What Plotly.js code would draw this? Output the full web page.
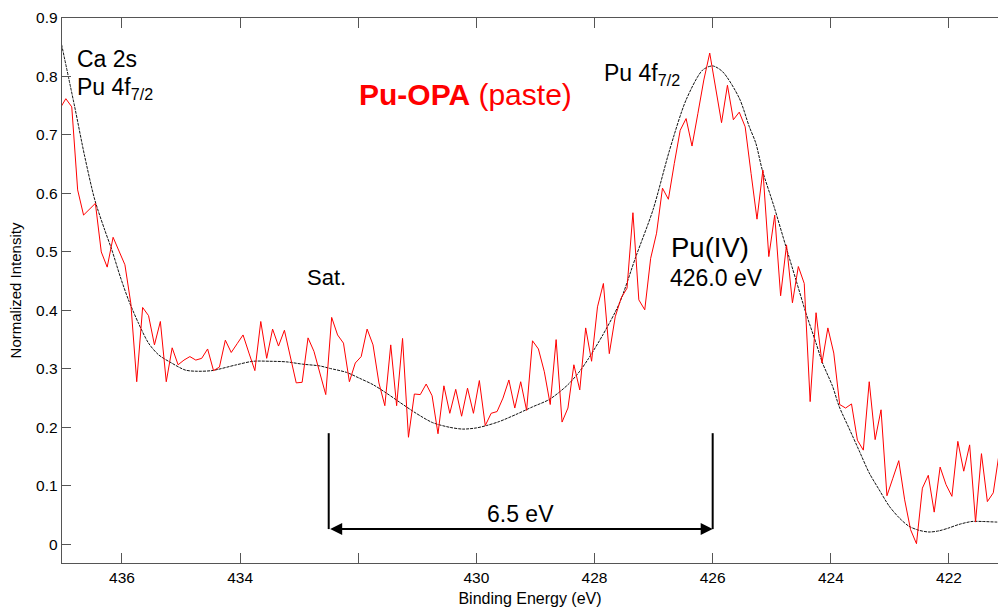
<!DOCTYPE html>
<html>
<head>
<meta charset="utf-8">
<script src="https://cdn.plot.ly/plotly-3.0.1.min.js"></script>
<style>
html,body{margin:0;padding:0;background:#fff;}
#chart{width:998px;height:607px;}
</style>
</head>
<body>
<div id="chart"></div>
<script>
// Binding energy grid of the measured spectrum (eV)
const energy = [437.05,436.95,436.85,436.75,436.65,436.55,436.45,436.35,436.25,436.15,436.05,
435.95,435.85,435.75,435.65,435.55,435.45,435.35,435.25,435.15,435.05,
434.95,434.85,434.75,434.65,434.55,434.45,434.35,434.25,434.15,434.05,
433.95,433.85,433.75,433.65,433.55,433.45,433.35,433.25,433.15,433.05,
432.95,432.85,432.75,432.65,432.55,432.45,432.35,432.25,432.15,432.05,
431.95,431.85,431.75,431.65,431.55,431.45,431.35,431.25,431.15,431.05,
430.95,430.85,430.75,430.65,430.55,430.45,430.35,430.25,430.15,430.05,
429.95,429.85,429.75,429.65,429.55,429.45,429.35,429.25,429.15,429.05,
428.95,428.85,428.75,428.65,428.55,428.45,428.35,428.25,428.15,428.05,
427.95,427.85,427.75,427.65,427.55,427.45,427.35,427.25,427.15,427.05,
426.95,426.85,426.75,426.65,426.55,426.45,426.35,426.25,426.15,426.05,
425.95,425.85,425.75,425.65,425.55,425.45,425.35,425.25,425.15,425.05,
424.95,424.85,424.75,424.65,424.55,424.45,424.35,424.25,424.15,424.05,
423.95,423.85,423.75,423.65,423.55,423.45,423.35,423.25,423.15,423.05,
422.95,422.85,422.75,422.65,422.55,422.45,422.35,422.25,422.15,422.05,
421.95,421.85,421.75,421.65,421.55,421.45,421.35,421.25,421.15];

// Measured normalized intensity (red)
const intensity = [0.745,0.762,0.748,0.606,0.563,0.573,0.583,0.500,0.474,0.525,0.503,
0.478,0.412,0.278,0.405,0.391,0.341,0.381,0.278,0.336,0.307,
0.315,0.321,0.315,0.318,0.334,0.297,0.303,0.349,0.328,0.343,
0.358,0.327,0.297,0.381,0.318,0.368,0.339,0.366,0.321,0.276,
0.277,0.353,0.330,0.295,0.256,0.388,0.358,0.344,0.278,0.310,
0.321,0.368,0.341,0.276,0.237,0.341,0.237,0.352,0.183,0.257,
0.256,0.274,0.254,0.189,0.271,0.224,0.265,0.219,0.267,0.224,
0.280,0.203,0.224,0.227,0.250,0.281,0.233,0.278,0.229,0.348,
0.334,0.295,0.239,0.350,0.209,0.233,0.307,0.264,0.370,0.313,
0.406,0.446,0.326,0.389,0.421,0.438,0.567,0.418,0.401,0.489,
0.532,0.609,0.590,0.651,0.708,0.728,0.681,0.737,0.794,0.840,
0.778,0.721,0.785,0.726,0.739,0.714,0.634,0.556,0.640,0.492,
0.563,0.425,0.512,0.413,0.475,0.446,0.244,0.396,0.310,0.370,
0.327,0.239,0.233,0.240,0.178,0.161,0.278,0.179,0.230,0.083,
0.113,0.143,0.076,0.025,0.001,0.096,0.118,0.055,0.132,0.102,
0.082,0.176,0.125,0.170,0.038,0.155,0.073,0.088,0.156];

// Fitted envelope (black)
const fitEnergy = [437.05,436.80,436.63,436.46,436.29,436.17,436.03,435.89,435.72,435.55,435.38,
435.16,434.93,434.76,434.48,434.06,433.78,433.50,433.22,432.94,432.65,432.49,432.20,
431.98,431.75,431.53,431.30,431.02,430.74,430.45,430.23,430.00,429.83,429.61,429.33,
429.05,428.76,428.45,428.25,428.10,427.86,427.58,427.30,427.01,426.73,426.45,426.17,
426.00,425.83,425.55,425.38,425.27,425.16,424.96,424.76,424.59,424.42,424.25,424.14,
423.97,423.86,423.69,423.52,423.35,423.18,423.01,422.84,422.68,422.51,422.34,422.17,
422.00,421.83,421.61,421.44,421.19,421.10];
const fitIntensity = [0.868,0.748,0.663,0.589,0.537,0.503,0.458,0.418,0.378,0.344,0.324,
0.310,0.298,0.296,0.297,0.307,0.313,0.313,0.312,0.308,0.305,0.301,0.294,
0.284,0.273,0.259,0.243,0.224,0.208,0.200,0.197,0.199,0.203,0.210,0.222,
0.235,0.248,0.273,0.296,0.318,0.358,0.412,0.492,0.572,0.674,0.760,0.811,
0.818,0.808,0.763,0.714,0.686,0.640,0.577,0.509,0.452,0.395,0.344,0.310,
0.270,0.236,0.198,0.160,0.122,0.093,0.065,0.045,0.031,0.024,0.021,0.023,
0.028,0.034,0.039,0.039,0.038,0.038];

// Axis ticks
const xTickVals = [436,434,432,430,428,426,424,422];
const xTickText = ["436","434","","430","428","426","424","422"];
const yTickVals = [0,0.1,0.2,0.3,0.4,0.5,0.6,0.7,0.8,0.9];
const yTickText = ["0","0.1","0.2","0.3","0.4","0.5","0.6","0.7","0.8","0.9"];

// Satellite separation marker (eV)
const satEnergy = 432.5;
const mainEnergy = 426.0;
const separationLabel = "6.5 eV";

const FONT = "Liberation Sans, Arial, sans-serif";

const traces = [
  {x: fitEnergy, y: fitIntensity, type: 'scatter', mode: 'lines',
   line: {color: '#111', width: 1, shape: 'spline', smoothing: 0.8, dash: '3px,1px'},
   hoverinfo: 'skip', showlegend: false},
  {x: energy, y: intensity, type: 'scatter', mode: 'lines',
   line: {color: '#ff0000', width: 1}, showlegend: false}
];

const textFont = {family: FONT, size: 23, color: '#000'};

const layout = {
  width: 998, height: 607,
  margin: {l: 62, r: 0, t: 18, b: 44, pad: 0},
  paper_bgcolor: '#fff', plot_bgcolor: '#fff',
  font: {family: FONT, color: '#000'},
  showlegend: false,
  xaxis: {
    range: [437.015, 421.17], autorange: false,
    tickvals: xTickVals, ticktext: xTickText,
    ticks: 'inside', ticklen: 10, tickwidth: 1, tickcolor: '#555',
    showline: true, linecolor: '#555', linewidth: 1.3, mirror: 'ticks',
    showgrid: false, zeroline: false,
    tickfont: {family: FONT, size: 15.5, color: '#000'},
    title: {text: 'Binding Energy (eV)', font: {family: FONT, size: 16, color: '#000'}, standoff: 8}
  },
  yaxis: {
    range: [-0.032, 0.9], autorange: false,
    tickvals: yTickVals, ticktext: yTickText,
    ticks: 'inside', ticklen: 9, tickwidth: 1, tickcolor: '#555',
    showline: true, linecolor: '#555', linewidth: 1.3, mirror: false,
    showgrid: false, zeroline: false,
    tickfont: {family: FONT, size: 15.5, color: '#000'},
    title: {text: 'Normalized Intensity', font: {family: FONT, size: 15, color: '#000'}, standoff: 10}
  },
  shapes: [
    {type: 'line', xref: 'x', yref: 'y', x0: satEnergy, x1: satEnergy, y0: 0.026, y1: 0.190,
     line: {color: '#000', width: 2}},
    {type: 'line', xref: 'x', yref: 'y', x0: mainEnergy, x1: mainEnergy, y0: 0.026, y1: 0.190,
     line: {color: '#000', width: 2}}
  ],
  annotations: [
    {x: mainEnergy, y: 0.0263, ax: satEnergy, ay: 0.0263, xref: 'x', yref: 'y', axref: 'x', ayref: 'y',
     text: '', showarrow: true, arrowside: 'end+start', arrowhead: 2, arrowsize: 1.2, arrowwidth: 2,
     arrowcolor: '#000', standoff: 0, startstandoff: 0},
    {x: 429.25, y: 0.052, xref: 'x', yref: 'y', text: separationLabel, showarrow: false,
     xanchor: 'center', yanchor: 'middle', font: textFont},
    {x: 436.79, y: 0.830, xref: 'x', yref: 'y', text: 'Ca 2s', showarrow: false,
     xanchor: 'left', yanchor: 'middle', font: textFont},
    {x: 436.79, y: 0.779, xref: 'x', yref: 'y', text: 'Pu 4f<sub>7/2</sub>', showarrow: false,
     xanchor: 'left', yanchor: 'middle', font: textFont},
    {x: 430.185, y: 0.769, xref: 'x', yref: 'y', text: '<b>Pu-OPA</b> (paste)', showarrow: false,
     xanchor: 'center', yanchor: 'middle', font: {family: FONT, size: 30, color: '#ff0000'}},
    {x: 427.87, y: 0.803, xref: 'x', yref: 'y', text: 'Pu 4f<sub>7/2</sub>', showarrow: false,
     xanchor: 'left', yanchor: 'middle', font: textFont},
    {x: 426.74, y: 0.508, xref: 'x', yref: 'y', text: 'Pu(IV)', showarrow: false,
     xanchor: 'left', yanchor: 'middle', font: {family: FONT, size: 27.5, color: '#000'}},
    {x: 426.75, y: 0.455, xref: 'x', yref: 'y', text: '426.0 eV', showarrow: false,
     xanchor: 'left', yanchor: 'middle', font: textFont},
    {x: 432.9, y: 0.457, xref: 'x', yref: 'y', text: 'Sat.', showarrow: false,
     xanchor: 'left', yanchor: 'middle', font: {family: FONT, size: 22, color: '#000'}}
  ]
};

Plotly.newPlot('chart', traces, layout, {staticPlot: true, displayModeBar: false});
</script>
</body>
</html>
